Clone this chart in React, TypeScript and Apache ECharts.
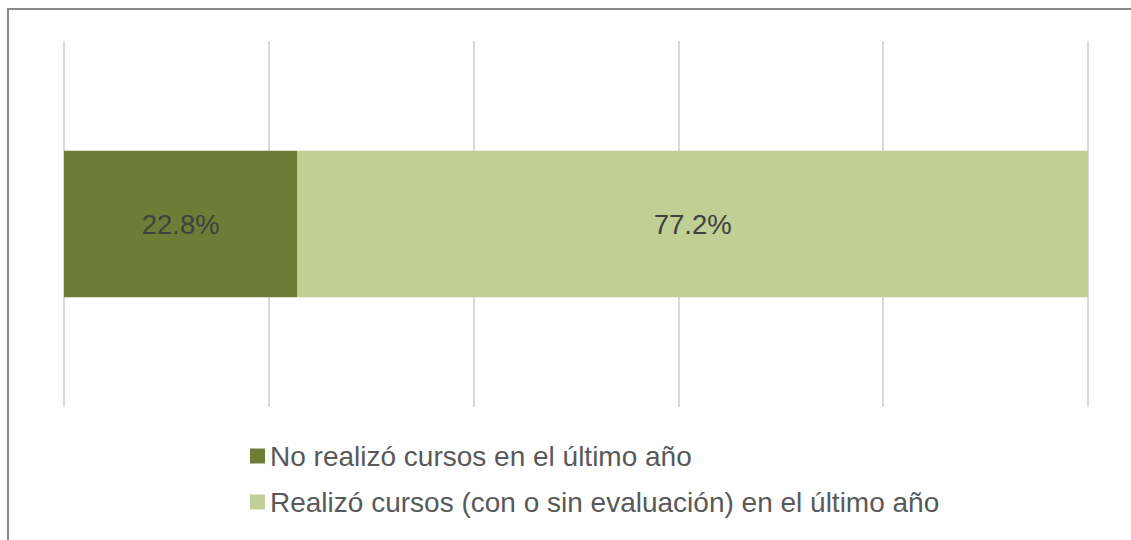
import React, { useEffect, useRef } from "react";
import * as echarts from "echarts";

const categories = ["Total"];
const seriesNames = [
  "No realizó cursos en el último año",
  "Realizó cursos (con o sin evaluación) en el último año",
];
const noCursos = [22.8];
const siCursos = [77.2];
const colors = ["#6d7d37", "#c0cf93"];

export default function App() {
  const ref = useRef<HTMLDivElement>(null);
  useEffect(() => {
    document.body.style.margin = "0";
    const chart = echarts.init(ref.current!, null, { renderer: "svg" });
    const label = {
      show: true,
      position: "inside",
      fontSize: 27.5,
      color: "#404040",
      fontFamily: "Liberation Sans, Arial, sans-serif",
      formatter: (p: any) => p.value.toFixed(1) + "%",
    };
    chart.setOption({
      animation: false,
      graphic: [
        {
          type: "rect",
          shape: { x: 8, y: 9, width: 1300, height: 700 },
          style: { fill: "none", stroke: "#898989", lineWidth: 2 },
          silent: true,
        },
      ],
      grid: { left: 64, right: 43, top: 41, bottom: 133 },
      xAxis: {
        type: "value",
        min: 0,
        max: 100,
        interval: 20,
        axisLabel: { show: false },
        axisLine: { show: false },
        axisTick: { show: false },
        splitLine: { lineStyle: { color: "#d9d9d9", width: 2 } },
      },
      yAxis: {
        type: "category",
        data: categories,
        show: false,
      },
      legend: {
        orient: "vertical",
        left: 250,
        top: 442,
        padding: 0,
        itemWidth: 15,
        itemHeight: 15,
        itemGap: 18,
        icon: "rect",
        textStyle: {
          fontSize: 28,
          lineHeight: 28,
          color: "#595959",
          fontFamily: "Liberation Sans, Arial, sans-serif",
        },
        data: seriesNames,
      },
      series: [
        {
          name: seriesNames[0],
          type: "bar",
          stack: "a",
          data: noCursos,
          barWidth: "40%",
          itemStyle: { color: colors[0] },
          label,
        },
        {
          name: seriesNames[1],
          type: "bar",
          stack: "a",
          data: siCursos,
          barWidth: "40%",
          itemStyle: { color: colors[1] },
          label,
        },
      ],
    });
    return () => chart.dispose();
  }, []);
  return <div ref={ref} style={{ width: 1131, height: 540 }} />;
}
